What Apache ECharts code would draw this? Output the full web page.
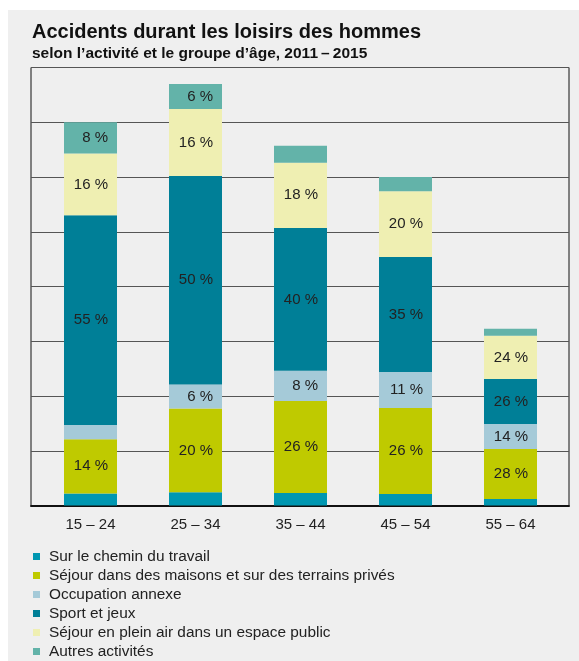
<!DOCTYPE html>
<html>
<head>
<meta charset="utf-8">
<title>Accidents durant les loisirs des hommes</title>
<script src="https://cdn.jsdelivr.net/npm/echarts@6/dist/echarts.min.js"></script>
<style>
  html, body { margin: 0; padding: 0; background: #fff; }
  .wrap { position: relative; width: 579px; height: 661px; }
  .panel { position: absolute; left: 8px; top: 10px; right: 0; bottom: 0; background: #efefef; }
  #chart { position: absolute; left: 0; top: 0; width: 579px; height: 661px; }
</style>
</head>
<body>
<div class="wrap">
  <div class="panel"></div>
  <div id="chart"></div>
</div>
<script>
// age groups
const categories = ['15 – 24', '25 – 34', '35 – 44', '45 – 54', '55 – 64']

// accidents (estimated, in arbitrary units, 10 per gridline)
const chemin = [2.2, 2.4, 2.3, 2.1, 1.2]
const maisons = [9.9, 15.3, 16.8, 15.7, 9.1]
const occupation = [2.6, 4.4, 5.5, 6.6, 4.6]
const sport = [38.3, 38.1, 26.1, 21.0, 8.2]
const pleinAir = [11.3, 12.2, 11.9, 12.0, 7.9]
const autres = [5.7, 4.6, 3.1, 2.6, 1.3]

// printed shares
const cheminPct = ['', '', '', '', '']
const maisonsPct = ['14 %', '20 %', '26 %', '26 %', '28 %']
const occupationPct = ['', '6 %', '8 %', '11 %', '14 %']
const sportPct = ['55 %', '50 %', '40 %', '35 %', '26 %']
const pleinAirPct = ['16 %', '16 %', '18 %', '20 %', '24 %']
const autresPct = ['8 %', '6 %', '', '', '']

const FONT = '"Liberation Sans", Arial, Helvetica, sans-serif'

const chart = echarts.init(document.getElementById('chart'))

const makeSeries = (name, values, labels, color) => ({
  name: name,
  type: 'bar',
  stack: 'total',
  xAxisIndex: 1,
  yAxisIndex: 1,
  barWidth: 53,
  data: values,
  itemStyle: { color: color },
  label: {
    show: true,
    position: 'insideRight',
    distance: 9,
    fontFamily: FONT,
    fontSize: 15,
    color: '#222',
    formatter: p => labels[p.dataIndex]
  }
})

const option = {
  animation: false,
  title: {
    text: 'Accidents durant les loisirs des hommes',
    subtext: 'selon l’activité et le groupe d’âge, 2011\u2009–\u20092015',
    left: 32,
    top: 22,
    padding: 0,
    itemGap: 4,
    textStyle: {
      fontFamily: FONT,
      fontSize: 20,
      fontWeight: 'bold',
      color: '#111'
    },
    subtextStyle: {
      fontFamily: FONT,
      fontSize: 15.5,
      fontWeight: 'bold',
      color: '#111'
    }
  },
  legend: {
    orient: 'vertical',
    left: 33,
    top: 549,
    padding: 0,
    icon: 'rect',
    itemWidth: 7,
    itemHeight: 7,
    itemGap: 4,
    selectedMode: false,
    textStyle: {
      fontFamily: FONT,
      fontSize: 15.4,
      color: '#222',
      padding: [0, 0, 0, 4]
    },
    data: [
      'Sur le chemin du travail',
      'Séjour dans des maisons et sur des terrains privés',
      'Occupation annexe',
      'Sport et jeux',
      'Séjour en plein air dans un espace public',
      'Autres activités'
    ]
  },
  grid: [
    {
      left: 31,
      top: 67.5,
      width: 538,
      height: 438,
      show: true,
      borderColor: '#111',
      borderWidth: 1,
      backgroundColor: 'transparent'
    },
    {
      left: 38,
      top: 67.5,
      width: 525,
      height: 438
    }
  ],
  xAxis: [
    {
      type: 'category',
      gridIndex: 0,
      data: categories,
      axisLine: { show: true, lineStyle: { color: '#111', width: 2 } },
      axisTick: { show: false },
      axisLabel: { show: false }
    },
    {
      type: 'category',
      gridIndex: 1,
      data: categories,
      axisLine: { show: false },
      axisTick: { show: false },
      axisLabel: {
        margin: 12,
        fontFamily: FONT,
        fontSize: 15,
        color: '#222'
      }
    }
  ],
  yAxis: [
    {
      type: 'value',
      gridIndex: 0,
      min: 0,
      max: 80,
      interval: 10,
      axisLine: { show: false },
      axisTick: { show: false },
      axisLabel: { show: false },
      splitLine: { lineStyle: { color: '#555', width: 1 } }
    },
    {
      type: 'value',
      gridIndex: 1,
      min: 0,
      max: 80,
      interval: 10,
      show: false,
      splitLine: { show: false }
    }
  ],
  series: [
    makeSeries('Sur le chemin du travail', chemin, cheminPct, '#0097b1'),
    makeSeries('Séjour dans des maisons et sur des terrains privés', maisons, maisonsPct, '#bfca00'),
    makeSeries('Occupation annexe', occupation, occupationPct, '#a5cad8'),
    makeSeries('Sport et jeux', sport, sportPct, '#007f97'),
    makeSeries('Séjour en plein air dans un espace public', pleinAir, pleinAirPct, '#efefb2'),
    makeSeries('Autres activités', autres, autresPct, '#63b3a9')
  ]
}

chart.setOption(option)
window.addEventListener('resize', () => chart.resize())
</script>
</body>
</html>
